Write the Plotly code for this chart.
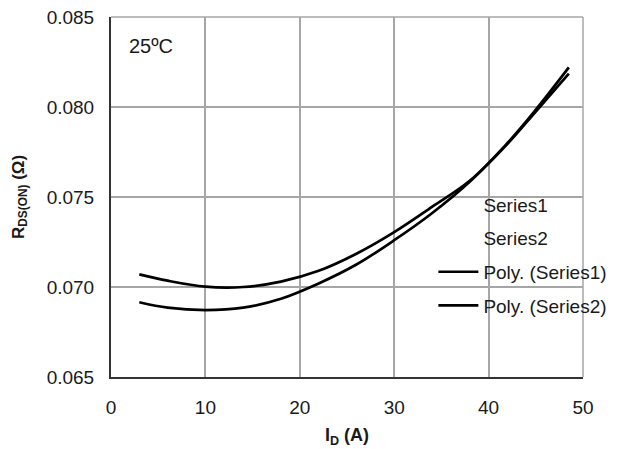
import plotly.graph_objects as go

# drain current (A) and on-resistance (ohm)
current_s1 = [3, 6, 10, 14, 18, 22, 26, 30, 34, 38, 42, 45, 48.5]
rds_s1 = [0.07070, 0.07035, 0.07002, 0.07000, 0.07030, 0.07090, 0.07185,
          0.07305, 0.07445, 0.07590, 0.07800, 0.07985, 0.08220]

current_s2 = [3, 6, 10, 14, 18, 22, 26, 30, 34, 38, 42, 45, 48.5]
rds_s2 = [0.06915, 0.06885, 0.06872, 0.06885, 0.06935, 0.07020, 0.07125,
          0.07260, 0.07410, 0.07585, 0.07795, 0.07975, 0.08185]

x_ticks = [0, 10, 20, 30, 40, 50]
y_ticks = [0.065, 0.070, 0.075, 0.080, 0.085]

FONT = "Liberation Sans, Arial, sans-serif"
GRID = "#a6a6a6"
INK = "#1a1a1a"

fig = go.Figure()

# raw series: markers not drawn in the source chart
fig.add_trace(go.Scatter(x=current_s1, y=rds_s1, mode="markers", name="Series1",
                         marker=dict(size=6, color="rgba(0,0,0,0)"), legendgroup="a"))
fig.add_trace(go.Scatter(x=current_s2, y=rds_s2, mode="markers", name="Series2",
                         marker=dict(size=6, color="rgba(0,0,0,0)"), legendgroup="b"))

fig.add_trace(go.Scatter(x=current_s1, y=rds_s1, mode="lines", name="Poly. (Series1)",
                         line=dict(color="black", width=2.7, shape="spline"), legendgroup="c"))
fig.add_trace(go.Scatter(x=current_s2, y=rds_s2, mode="lines", name="Poly. (Series2)",
                         line=dict(color="black", width=2.7, shape="spline"), legendgroup="d"))

fig.add_annotation(x=0.034, y=0.956, xref="paper", yref="paper", text="25ºC",
                   showarrow=False, xanchor="left", yanchor="top",
                   font=dict(family=FONT, size=20, color=INK))

fig.update_xaxes(
    range=[0, 50], tickvals=x_ticks, showgrid=True, gridcolor=GRID, gridwidth=1.5,
    showline=True, linecolor="#333", linewidth=2, zeroline=False, automargin=False,
    tickfont=dict(family=FONT, size=19, color=INK), ticks="", ticklabelstandoff=12,
    ticklabeloverflow="allow",
    title=dict(text="<b>I<sub>D</sub> (A)</b>", font=dict(family=FONT, size=18, color=INK),
               standoff=12),
)
fig.update_yaxes(
    range=[0.065, 0.085], tickvals=y_ticks, tickformat=".3f", showgrid=True,
    gridcolor=GRID, gridwidth=1.5, showline=True, linecolor="#333", linewidth=2,
    zeroline=False, automargin=False, tickfont=dict(family=FONT, size=19, color=INK),
    ticks="", ticklabelstandoff=11, ticklabeloverflow="allow",
    title=dict(text="<b>R<sub>DS(ON)</sub> (Ω)</b>", font=dict(family=FONT, size=17, color=INK),
               standoff=18),
)

# top and right frame in grid colour
fig.add_shape(type="line", xref="paper", yref="paper", x0=0, x1=1, y0=1, y1=1,
              line=dict(color=GRID, width=1.5))
fig.add_shape(type="line", xref="paper", yref="paper", x0=1, x1=1, y0=0, y1=1,
              line=dict(color=GRID, width=1.5))

fig.update_layout(
    width=621, height=449,
    margin=dict(l=103, r=46, t=9, b=80),
    plot_bgcolor="white", paper_bgcolor="white",
    showlegend=True,
    legend=dict(x=0.683, y=0.532, xanchor="left", yanchor="top", bgcolor="rgba(0,0,0,0)",
                font=dict(family=FONT, size=19, color=INK), tracegroupgap=6,
                itemwidth=40),
)

fig.write_html("out.html")
